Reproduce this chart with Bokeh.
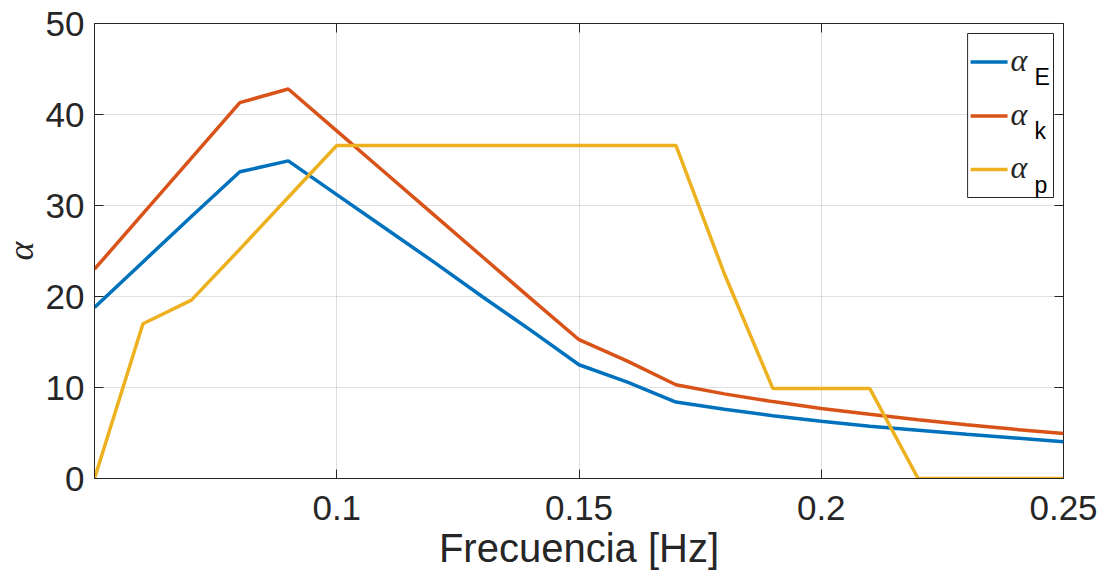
import math
from bokeh.plotting import figure
from bokeh.models import (Range1d, FixedTicker, LinearAxis, Label, BoxAnnotation, Title)
from bokeh.embed import file_html
from bokeh.resources import INLINE

# ---- data ----
freq = [0.05, 0.06, 0.07, 0.08, 0.09, 0.10, 0.11, 0.12, 0.13, 0.14, 0.15,
        0.16, 0.17, 0.18, 0.19, 0.20, 0.21, 0.22, 0.23, 0.24, 0.25]
alpha_E = [18.8, 23.8, 28.8, 33.7, 34.9, 31.2, 27.5, 23.8, 20.0, 16.3, 12.5,
           10.6, 8.4, 7.6, 6.9, 6.3, 5.75, 5.3, 4.85, 4.45, 4.05]
alpha_k = [23.0, 29.1, 35.2, 41.3, 42.8, 38.2, 33.6, 29.0, 24.4, 19.8, 15.25,
           12.9, 10.3, 9.3, 8.45, 7.7, 7.05, 6.45, 5.9, 5.4, 4.95]
alpha_p = [0.0, 17.0, 19.6, 25.2, 30.9, 36.6, 36.6, 36.6, 36.6, 36.6, 36.6,
           36.6, 36.6, 22.5, 9.9, 9.9, 9.9, 0.0, 0.0, 0.0, 0.0]

series_names = ["E", "k", "p"]
series_colors = ["#0072BD", "#D95319", "#EDB120"]

x_ticks = [0.1, 0.15, 0.2, 0.25]
x_tick_labels = ["0.1", "0.15", "0.2", "0.25"]
y_ticks = [0, 10, 20, 30, 40, 50]

x_label = "Frecuencia [Hz]"
y_label = "α"

AX = "#262626"
FONT = "Liberation Sans"
GREEK = "Liberation Serif"

X0, X1, Y0, Y1 = 0.05, 0.25, 0, 50
FL, FT, FW, FH = 93, 23, 970, 455   # frame left/top/width/height (px)
W, H = 1106, 578

p = figure(width=W, height=H,
           min_border_left=FL, min_border_right=W - FL - FW,
           min_border_top=FT, min_border_bottom=H - FT - FH,
           x_range=Range1d(X0, X1), y_range=Range1d(Y0, Y1),
           output_backend="svg", toolbar_location=None,
           background_fill_color="white", border_fill_color="white",
           outline_line_color=AX, outline_line_width=1)

# lines
for vals, col in zip([alpha_E, alpha_k, alpha_p], series_colors):
    p.line(freq, vals, line_color=col, line_width=3.5)

# axes styling
for ax in (p.xaxis[0], p.yaxis[0]):
    ax.axis_line_color = AX
    ax.major_tick_line_color = AX
    ax.major_tick_in = 9
    ax.major_tick_out = 0
    ax.minor_tick_line_color = None
    ax.major_label_text_font = FONT
    ax.major_label_text_font_size = "35px"
    ax.major_label_text_color = AX
    ax.axis_label_text_color = AX

p.xaxis.ticker = FixedTicker(ticks=x_ticks)
p.xaxis.major_label_overrides = {t: s for t, s in zip(x_ticks, x_tick_labels)}
p.yaxis.ticker = FixedTicker(ticks=y_ticks)
p.xaxis.major_label_standoff = 17
p.yaxis.major_label_standoff = 10

p.xaxis.axis_label = x_label
p.xaxis.axis_label_text_font = FONT
p.xaxis.axis_label_text_font_size = "40px"
p.xaxis.axis_label_text_font_style = "normal"
p.xaxis.axis_label_standoff = 3

# y title as a Title on the left side (tighter than the axis label box)
p.add_layout(Title(text=y_label, align="center", vertical_align="top",
                   text_font=GREEK, text_font_style="italic",
                   text_font_size="36px", text_color=AX,
                   standoff=0, offset=0), "left")

# box ticks on top and right
top = LinearAxis(ticker=FixedTicker(ticks=x_ticks), axis_line_color=None,
                 major_tick_in=9, major_tick_out=0, major_tick_line_color=AX,
                 minor_tick_line_color=None, major_label_standoff=0,
                 major_label_overrides={t: "" for t in x_ticks})
right = LinearAxis(ticker=FixedTicker(ticks=y_ticks), axis_line_color=None,
                   major_tick_in=9, major_tick_out=0, major_tick_line_color=AX,
                   minor_tick_line_color=None, major_label_standoff=0,
                   major_label_overrides={t: "" for t in y_ticks})
p.add_layout(top, "above")
p.add_layout(right, "right")

# grid
p.xgrid.ticker = FixedTicker(ticks=x_ticks)
p.ygrid.ticker = FixedTicker(ticks=y_ticks)
for g in (p.xgrid[0], p.ygrid[0]):
    g.grid_line_color = AX
    g.grid_line_alpha = 0.15
    g.grid_line_width = 1

# ---- legend (drawn by hand so the subscripts can be shown) ----
def fx(px):  # image pixel -> data x
    return X0 + (px - FL) / FW * (X1 - X0)

def fy(py):  # image pixel -> data y
    return Y0 + (FT + FH - py) / FH * (Y1 - Y0)

p.add_layout(BoxAnnotation(left=fx(967), right=fx(1053), top=fy(33), bottom=fy(197),
                           fill_color="white", fill_alpha=1,
                           line_color=AX, line_width=1, line_alpha=1))
row_y = [61.5, 115.5, 169]
for name, col, ly in zip(series_names, series_colors, row_y):
    p.add_layout(BoxAnnotation(left=fx(970), right=fx(1007),
                               top=fy(ly - 1.75), bottom=fy(ly + 1.75),
                               fill_color=col, fill_alpha=1, line_color=None))
    p.add_layout(Label(x=1009 - FL, y=FT + FH - (ly - 2.5), x_units="screen",
                       y_units="screen", text="α", text_font=GREEK,
                       text_font_style="italic", text_font_size="32px",
                       text_color=AX, text_baseline="alphabetic"))
    p.add_layout(Label(x=1033 - FL, y=FT + FH - (ly + 15), x_units="screen",
                       y_units="screen", text=name, text_font=FONT,
                       text_font_size="23px", text_color="black",
                       text_baseline="alphabetic"))

open("out.html", "w").write(file_html(p, INLINE))
